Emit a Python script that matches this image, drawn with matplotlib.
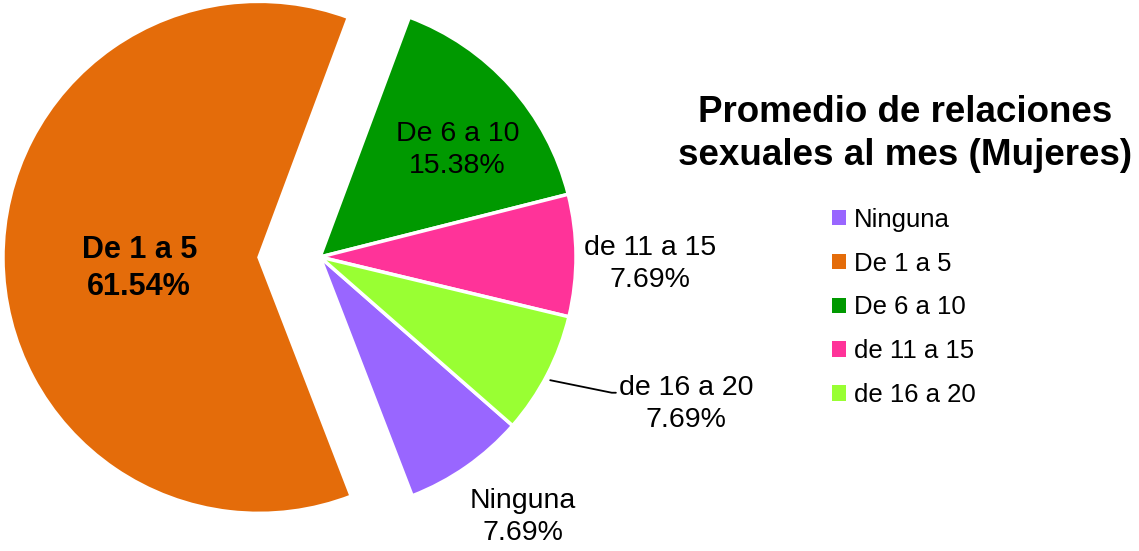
import numpy as np
import matplotlib
matplotlib.use("Agg")
import matplotlib.pyplot as plt

plt.rcParams['font.family'] = ['Liberation Sans', 'DejaVu Sans']

# chart data
categories = ["Ninguna", "De 1 a 5", "De 6 a 10", "de 11 a 15", "de 16 a 20"]
counts = [1, 8, 2, 1, 1]
pct_labels = ["7.69%", "61.54%", "15.38%", "7.69%", "7.69%"]
colors = ["#9966FF", "#E46C0A", "#009900", "#FF3399", "#99FF33"]
title = "Promedio de relaciones\nsexuales al mes (Mujeres)"

W, H = 1139, 551
fig = plt.figure(figsize=(W / 100, H / 100), dpi=100)
ax = fig.add_axes([0, 0, 1, 1])

cx, cy, R = 320, H - 257, 256
# explode is in data units (pixels here)
explode = [0, 61, 0, 0, 0]
wedges, _ = ax.pie(counts, colors=colors, explode=explode, startangle=-41.2,
                   counterclock=False, radius=R, center=(cx, cy),
                   wedgeprops=dict(edgecolor='white', linewidth=2.5),
                   frame=True)
ax.set_xlim(0, W)
ax.set_ylim(0, H)
ax.set_aspect('equal')
ax.axis('off')

# label placement: (radius factor, angle offset)
label_pos = [(1.29, 3.0), (0.47, 5.0), (0.68, -4.0), (1.29, -1.5), (1.54, 5.5)]
fs = 20.5
for i, w in enumerate(wedges):
    mid = np.deg2rad((w.theta1 + w.theta2) / 2 + label_pos[i][1])
    wx, wy = w.center
    f = label_pos[i][0]
    tx, ty = wx + f * R * np.cos(mid), wy + f * R * np.sin(mid)
    txt = f"{categories[i]}\n{pct_labels[i]}"
    if i == 1:
        ax.text(tx, ty, txt, ha='center', va='center', fontsize=22,
                fontweight='bold', linespacing=1.3)
    elif i == 4:
        a = np.deg2rad((w.theta1 + w.theta2) / 2 - 0.8)
        ex, ey = wx + 1.02 * R * np.cos(a), wy + 1.02 * R * np.sin(a)
        ax.annotate(txt, xy=(ex, ey), xytext=(tx, ty), ha='center', va='center',
                    fontsize=fs, linespacing=1.3,
                    arrowprops=dict(arrowstyle='-', color='black', lw=1.3,
                                    relpos=(0, 0.69), shrinkA=0, shrinkB=0,
                                    connectionstyle="angle,angleA=180,angleB=-11.5,rad=0"))
    else:
        ax.text(tx, ty, txt, ha='center', va='center', fontsize=fs,
                linespacing=1.3)

ax.text(905, H - 134, title, ha='center', va='center', fontsize=26.5,
        fontweight='bold', linespacing=1.3)

ax.legend(wedges, categories, loc='upper left', bbox_to_anchor=(819 / W, 1 - 195 / H),
          frameon=False, fontsize=18.5, handlelength=0.55, handleheight=0.55,
          handletextpad=0.3, labelspacing=0.77, borderpad=0)
for p in ax.get_legend().get_patches():
    p.set_edgecolor('none')

fig.savefig("out.png", dpi=100)
